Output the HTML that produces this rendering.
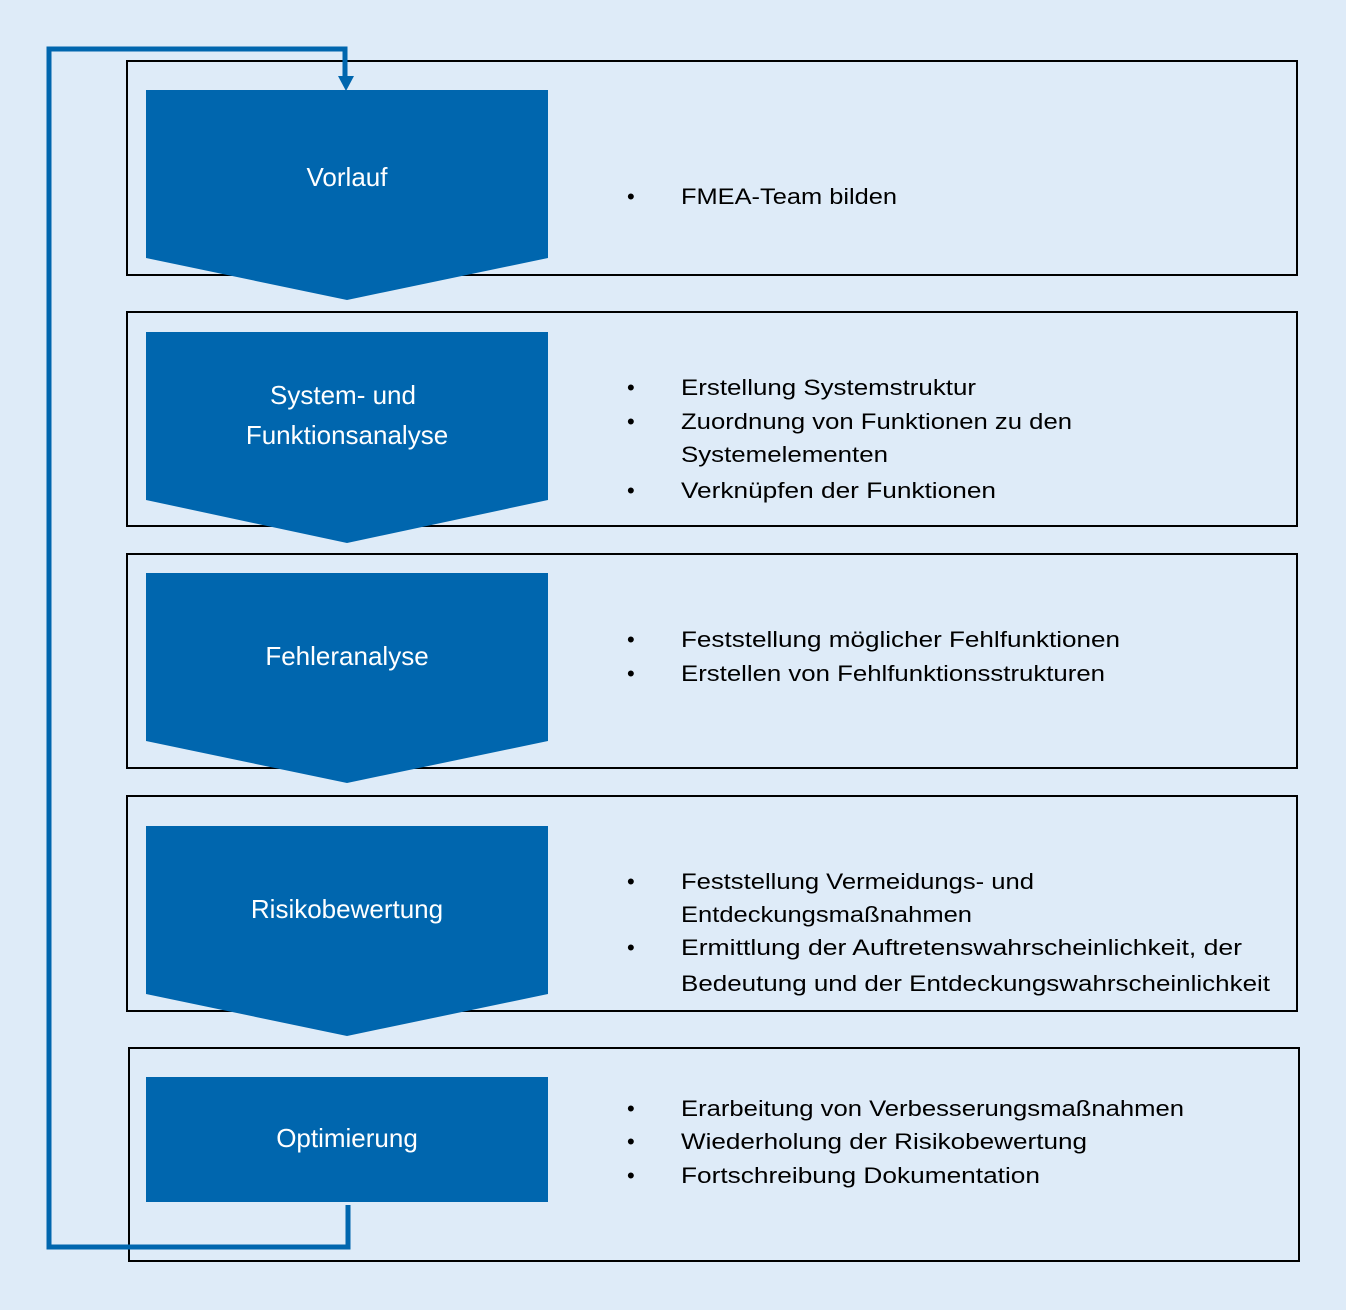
<!DOCTYPE html>
<html><head><meta charset="utf-8"><style>
html,body{margin:0;padding:0;background:#deebf8;}
svg{display:block}
text{font-family:"Liberation Sans",sans-serif;}
.w{fill:#fff;font-size:26px}
.b{fill:#000;font-size:22px}
</style></head><body>
<svg width="1346" height="1310" viewBox="0 0 1346 1310" xmlns="http://www.w3.org/2000/svg">
<rect width="1346" height="1310" fill="#deebf8"/>
<g fill="none" stroke="#000" stroke-width="2">
<rect x="127" y="61" width="1170" height="214"/>
<rect x="127" y="312" width="1170" height="214"/>
<rect x="127" y="554" width="1170" height="214"/>
<rect x="127" y="796" width="1170" height="215"/>
<rect x="129" y="1048" width="1170" height="213"/>
</g>
<g fill="#0066ae">
<polygon points="146,90 548,90 548,258 347,300 146,258"/>
<polygon points="146,332 548,332 548,500 347,543 146,500"/>
<polygon points="146,573 548,573 548,741 347,783 146,741"/>
<polygon points="146,826 548,826 548,994 347,1036 146,994"/>
<rect x="146" y="1077" width="402" height="125"/>
<polygon points="338,76 354,76 346,91"/>
</g>
<polyline points="348,1205 348,1247 49,1247 49,49 345,49 345,78" fill="none" stroke="#0066ae" stroke-width="5"/>
<g class="w" text-anchor="middle">
<text x="347" y="186">Vorlauf</text>
<text x="343" y="404">System- und</text>
<text x="347" y="444">Funktionsanalyse</text>
<text x="347" y="665">Fehleranalyse</text>
<text x="347" y="918">Risikobewertung</text>
<text x="347" y="1147">Optimierung</text>
</g>
<g class="b">
<text x="627" y="204">•</text><text x="681" y="204" textLength="216" lengthAdjust="spacingAndGlyphs">FMEA-Team bilden</text>
<text x="627" y="395">•</text><text x="681" y="395" textLength="295" lengthAdjust="spacingAndGlyphs">Erstellung Systemstruktur</text>
<text x="627" y="429">•</text><text x="681" y="429" textLength="391" lengthAdjust="spacingAndGlyphs">Zuordnung von Funktionen zu den</text>
<text x="681" y="462" textLength="207" lengthAdjust="spacingAndGlyphs">Systemelementen</text>
<text x="627" y="498">•</text><text x="681" y="498" textLength="315" lengthAdjust="spacingAndGlyphs">Verknüpfen der Funktionen</text>
<text x="627" y="647">•</text><text x="681" y="647" textLength="439" lengthAdjust="spacingAndGlyphs">Feststellung möglicher Fehlfunktionen</text>
<text x="627" y="681">•</text><text x="681" y="681" textLength="424" lengthAdjust="spacingAndGlyphs">Erstellen von Fehlfunktionsstrukturen</text>
<text x="627" y="889">•</text><text x="681" y="889" textLength="353" lengthAdjust="spacingAndGlyphs">Feststellung Vermeidungs- und</text>
<text x="681" y="922" textLength="291" lengthAdjust="spacingAndGlyphs">Entdeckungsmaßnahmen</text>
<text x="627" y="955">•</text><text x="681" y="955" textLength="561" lengthAdjust="spacingAndGlyphs">Ermittlung der Auftretenswahrscheinlichkeit, der</text>
<text x="681" y="991" textLength="589" lengthAdjust="spacingAndGlyphs">Bedeutung und der Entdeckungswahrscheinlichkeit</text>
<text x="627" y="1116">•</text><text x="681" y="1116" textLength="503" lengthAdjust="spacingAndGlyphs">Erarbeitung von Verbesserungsmaßnahmen</text>
<text x="627" y="1149">•</text><text x="681" y="1149" textLength="406" lengthAdjust="spacingAndGlyphs">Wiederholung der Risikobewertung</text>
<text x="627" y="1183">•</text><text x="681" y="1183" textLength="359" lengthAdjust="spacingAndGlyphs">Fortschreibung Dokumentation</text>
</g>
</svg>
</body></html>
